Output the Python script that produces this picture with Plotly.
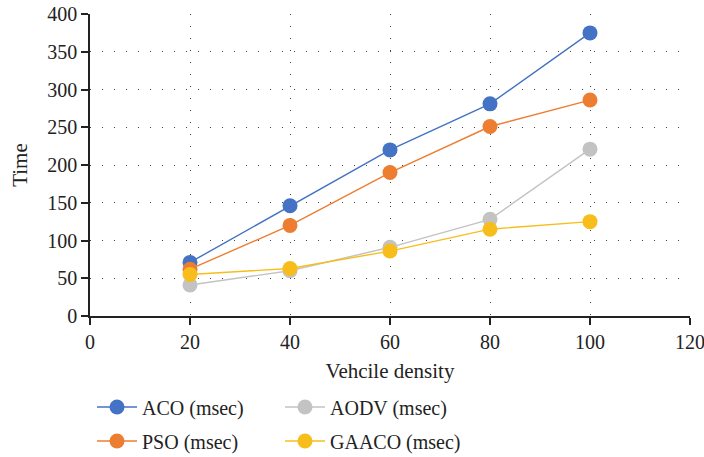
import plotly.graph_objects as go

density = [20, 40, 60, 80, 100]
aco = [71, 146, 220, 281, 375]
aodv = [41, 60, 91, 128, 221]
pso = [62, 120, 190, 251, 286]
gaaco = [55, 63, 86, 115, 125]

series = [
    ("ACO (msec)", aco, "#4472C4", "legend"),
    ("AODV (msec)", aodv, "#C3C3C3", "legend"),
    ("PSO (msec)", pso, "#ED7D31", "legend2"),
    ("GAACO (msec)", gaaco, "#F7BE1B", "legend2"),
]

font_family = "Liberation Serif, DejaVu Serif, serif"

fig = go.Figure()
for name, vals, col, lg in series:
    fig.add_trace(go.Scatter(
        x=density, y=vals, name=name, mode="lines+markers",
        line=dict(color=col, width=1.4),
        marker=dict(color=col, size=15),
        legend=lg,
    ))

leg_common = dict(
    orientation="h", xref="container", yref="container",
    x=92 / 704, xanchor="left", yanchor="middle",
    entrywidth=133, entrywidthmode="pixels",
    font=dict(size=20), itemwidth=40, bgcolor="rgba(0,0,0,0)",
)

fig.update_layout(
    width=704, height=457,
    margin=dict(l=90, r=14, t=14, b=141, autoexpand=False),
    paper_bgcolor="white", plot_bgcolor="white",
    font=dict(family=font_family, size=20, color="#222222"),
    showlegend=True,
    legend=dict(y=1 - 407 / 457, **leg_common),
    legend2=dict(y=1 - 441 / 457, **leg_common),
    xaxis=dict(
        range=[0, 120], tickvals=[0, 20, 40, 60, 80, 100, 120],
        showline=True, linecolor="#222222", linewidth=1.5,
        ticks="outside", ticklen=7, tickcolor="#222222", tickwidth=1.5,
        ticklabeloverflow="allow",
        showgrid=True, gridcolor="#444444", gridwidth=1, griddash="1px,11px",
        zeroline=False,
        title=dict(text="Vehcile density", standoff=12, font=dict(size=21)),
    ),
    yaxis=dict(
        range=[0, 400], tickvals=[0, 50, 100, 150, 200, 250, 300, 350, 400],
        showline=True, linecolor="#222222", linewidth=1.5,
        ticks="outside", ticklen=7, tickcolor="#222222", tickwidth=1.5,
        showgrid=True, gridcolor="#444444", gridwidth=1, griddash="1px,11px",
        zeroline=False,
        title=dict(text="Time", standoff=14, font=dict(size=21)),
    ),
)

fig.write_html("out.html")
